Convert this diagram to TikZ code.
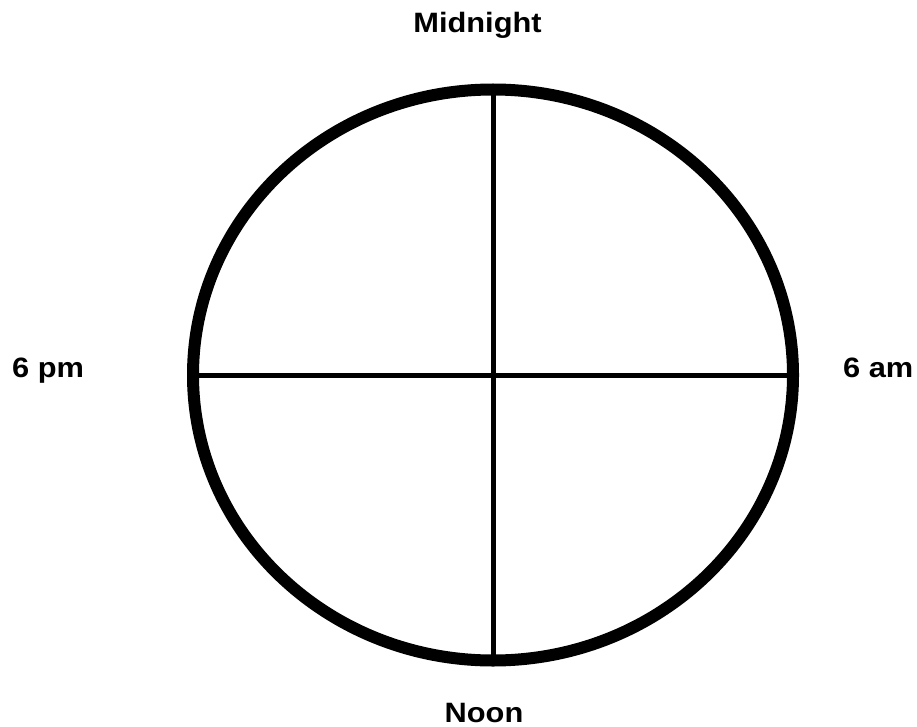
\documentclass[tikz,border=0pt]{standalone}
\usepackage{fontspec}
\setmainfont{Liberation Sans}
\usetikzlibrary{shapes.geometric}
\newcommand{\widelbl}[1]{\scalebox{1.1}[1]{#1}}
\begin{document}
\begin{tikzpicture}[x=1pt,y=-1pt,
  lbl/.style={font=\bfseries\fontsize{28}{32}\selectfont, inner sep=0pt},
  dial/.style={draw=black, ellipse, line width=12pt, minimum width=600pt, minimum height=571pt, inner sep=0pt, outer sep=0pt},
  spoke/.style={draw=black, line width=5pt}]
\useasboundingbox (0,0) rectangle (917,727);
\fill[white] (0,0) rectangle (917,727);
\node[dial] (e) at (493,375) {};
\draw[spoke] (e.north) -- (e.south);
\draw[spoke] (e.west) -- (e.east);
\node[lbl, anchor=base] (mid) at (477.5,33) {\widelbl{Midnight}};
\node[lbl, anchor=base] (noon) at (484,722) {\widelbl{Noon}};
\node[lbl, anchor=base west] (pm) at (12,377) {\widelbl{6 pm}};
\node[lbl, anchor=base west] (am) at (843,377) {\widelbl{6 am}};
\end{tikzpicture}
\end{document}
